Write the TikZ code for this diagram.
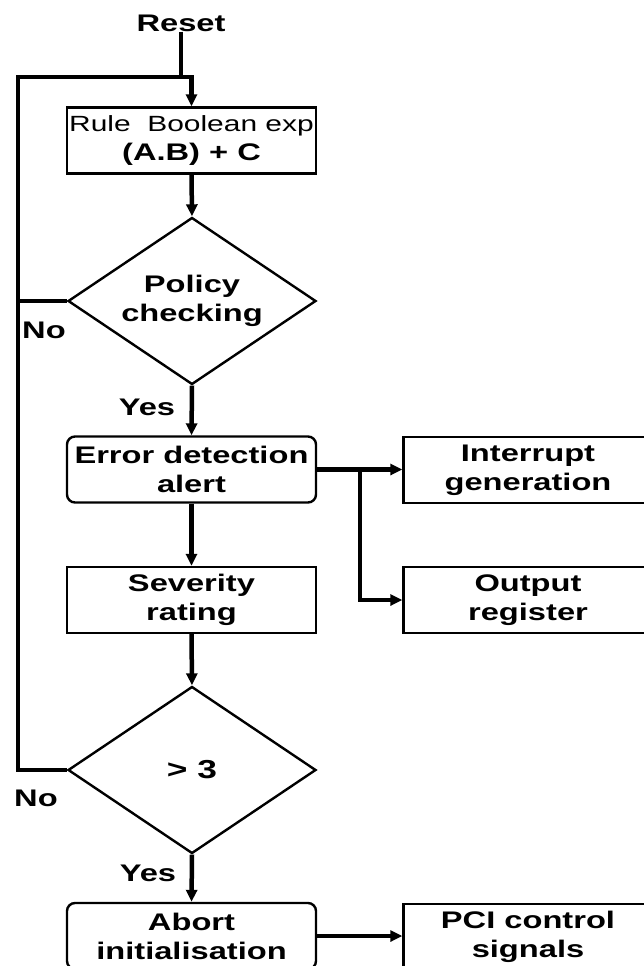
\documentclass[tikz,border=0pt]{standalone}
\usepackage{fontspec}
\newfontfamily\dia{Liberation Sans}[FakeStretch=1.36]
\usetikzlibrary{shapes.geometric,arrows.meta,calc}
\begin{document}
\begin{tikzpicture}[x=1pt,y=-1pt,
  txt/.style={font=\dia\bfseries\fontsize{24}{29}\selectfont,align=center,inner sep=0pt},
  box/.style={draw,line width=2.4pt,minimum width=249pt,minimum height=66pt,inner sep=0pt,
    font=\dia\bfseries\fontsize{24}{29}\selectfont,align=center},
  rbox/.style={box,rounded corners=8pt},
  decision/.style={draw,line width=2.4pt,shape=diamond,minimum width=248pt,minimum height=167pt,inner sep=0pt},
  flow/.style={line width=4.5pt},
  arr/.style={flow,-{Triangle[length=12pt,width=11pt]}}]
\useasboundingbox (0,0) rectangle (644,966);
\clip (0,0) rectangle (644,966);

% main column
\node[txt] (reset) at (181,23) {Reset};
\node[box] (rule) at (191.5,140.5) {{\mdseries\fontsize{22}{28}\selectfont Rule\ \ Boolean exp}\\(A.B) + C};
\node[decision] (policy) at (192,301) {};
\node[txt] (policytxt) at (policy) {Policy\\checking};
\node[rbox] (error) at (191.5,469.5) {Error detection\\alert};
\node[box] (severity) at (191.5,600) {Severity\\rating};
\node[decision] (gt) at (192,770) {};
\node[txt] (gttxt) at (gt) {\fontsize{26}{30}\selectfont > 3};
\node[rbox] (abort) at (191.5,936) {Abort\\initialisation};

% right column
\node[box] (interrupt) at (528,470) {Interrupt\\generation};
\node[box] (output) at (528,600) {Output\\register};
\node[box] (pci) at (528,937) {PCI control\\signals};

% branch labels
\node[txt] (no1) at (44,330) {No};
\node[txt] (yes1) at (147,407) {Yes};
\node[txt] (no2) at (36,798) {No};
\node[txt] (yes2) at (148,873) {Yes};

% loop back to the rule box
\coordinate (looptop) at (18,77);
\coordinate (entry) at (rule.north |- looptop);
\draw[flow] (reset.south) -- (reset.south |- looptop);
\draw[flow] (policy.west) -- (policy.west -| looptop);
\draw[arr] (gt.west) -| (looptop) -- (entry) -- (rule.north);

% main flow
\draw[arr] (rule.south) -- (policy.north);
\draw[arr] (policy.south) -- (error.north);
\draw[arr] (error.south) -- (severity.north);
\draw[arr] (severity.south) -- (gt.north);
\draw[arr] (gt.south) -- (abort.north);

% outputs
\coordinate (branch) at (360,469.5);
\draw[arr] (error.east) -- (interrupt.west |- error.east);
\draw[arr] (branch) |- (output.west);
\draw[arr] (abort.east) -- (pci.west |- abort.east);
\end{tikzpicture}
\end{document}
